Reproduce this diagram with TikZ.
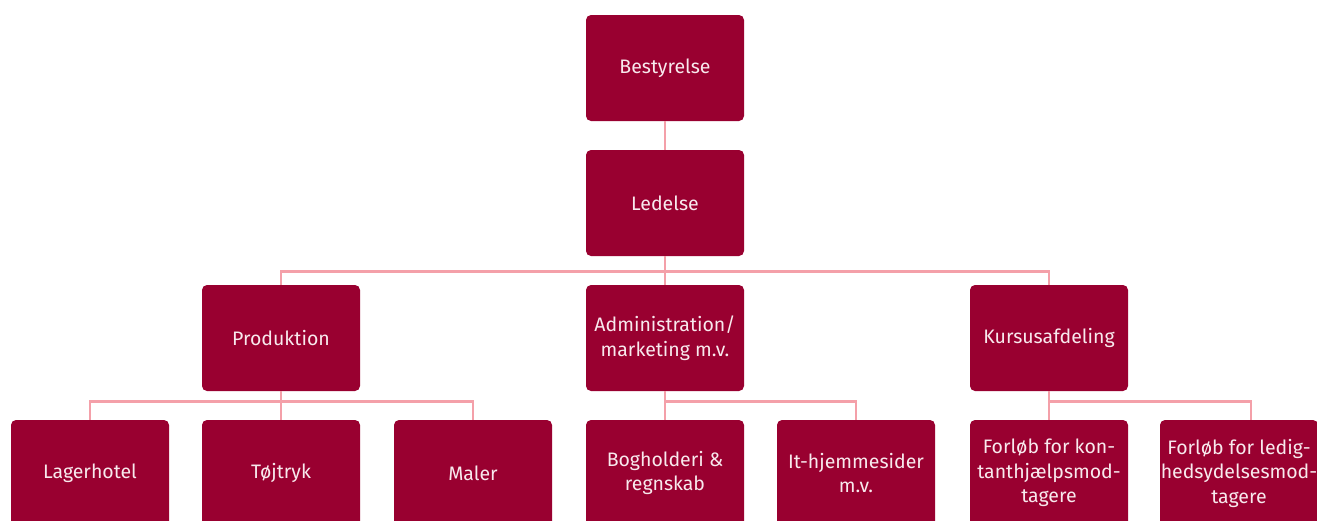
\documentclass[tikz,border=0pt]{standalone}
\usepackage{fontspec}
\setmainfont{Fira Sans}
\definecolor{boxred}{HTML}{990030}
\definecolor{linkpink}{HTML}{F4A0A9}
\definecolor{boxtext}{HTML}{F8E9ED}
\tikzset{
    unit/.style={rectangle, rounded corners=5pt, fill=boxred, text=boxtext,
        minimum width=158pt, minimum height=106pt, inner sep=0pt,
        align=center, font=\fontsize{19.5}{24.5}\selectfont},
    link/.style={draw=linkpink, line width=2.8pt}
}
\begin{document}
\begin{tikzpicture}[x=1pt, y=-1pt]
            \clip (0,0) rectangle (1317,520);
            \fill[white] (0,0) rectangle (1317,520);
            % top levels
            \node[unit] (board) at (665, 68) {Bestyrelse};
            \node[unit] (lead) at (665, 203) {Ledelse};
            % departments
            \node[unit] (prod) at (281, 338) {Produktion};
            \node[unit] (admin) at (665, 338) {Administration/\\marketing m.v.};
            \node[unit] (course) at (1049, 338) {Kursusafdeling};
            % units
            \node[unit] (storage) at (90, 473) {Lagerhotel};
            \node[unit] (print) at (281, 473) {Tøjtryk};
            \node[unit] (paint) at (473, 473) {Maler};
            \node[unit] (books) at (665, 473) {Bogholderi \&\\regnskab};
            \node[unit] (web) at (856, 473) {It-hjemmesider\\m.v.};
            \node[unit] (cash) at (1049, 473) {Forløb for kon-\\tanthjælpsmod-\\tagere};
            \node[unit] (unemp) at (1239, 473) {Forløb for ledig-\\hedsydelsesmod-\\tagere};
            % links
            \draw[link] (board.south) -- (lead.north);
            \draw[link] (lead.south) -- ++(0,15) -| (prod.north);
            \draw[link] (lead.south) -- (admin.north);
            \draw[link] (lead.south) -- ++(0,15) -| (course.north);
            \draw[link] (prod.south) -- ++(0,10) -| (storage.north);
            \draw[link] (prod.south) -- (print.north);
            \draw[link] (prod.south) -- ++(0,10) -| (paint.north);
            \draw[link] (admin.south) -- (books.north);
            \draw[link] (admin.south) -- ++(0,10) -| (web.north);
            \draw[link] (course.south) -- (cash.north);
            \draw[link] (course.south) -- ++(0,10) -| ([xshift=12pt]unemp.north);
        \end{tikzpicture}
\end{document}
